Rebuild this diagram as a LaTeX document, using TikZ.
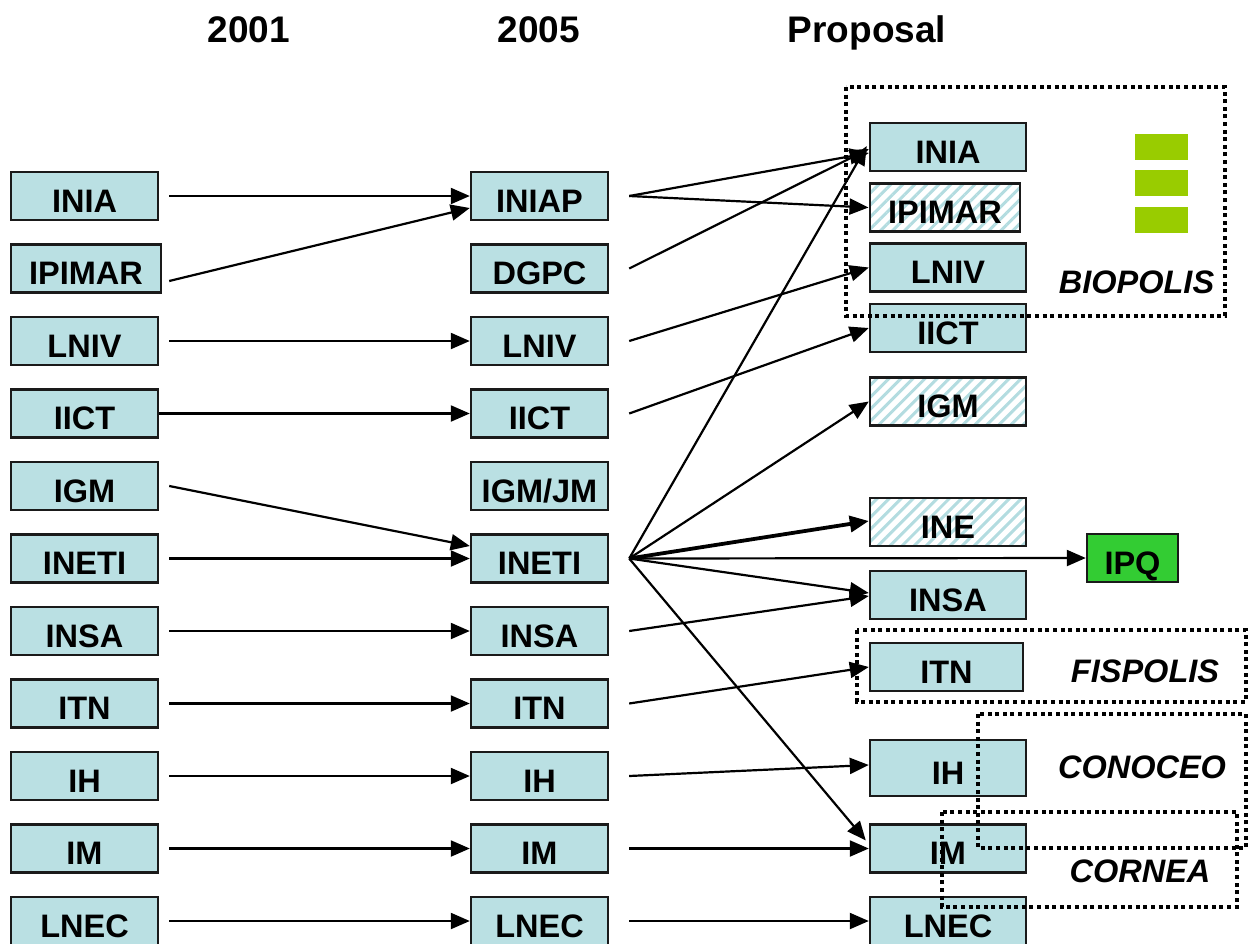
\documentclass[tikz,border=0pt]{standalone}
\usepackage{fontspec}
\setmainfont{Liberation Sans}
\usetikzlibrary{arrows.meta,patterns.meta}
\definecolor{boxfill}{HTML}{BAE0E3}
\definecolor{hatchcol}{HTML}{B3DCE0}
\definecolor{ipqgreen}{HTML}{33CC33}
\definecolor{bargreen}{HTML}{99CC00}
\definecolor{edgecol}{HTML}{1A1A1A}
\newcommand\boxfont{\fontsize{32.5}{36}\selectfont\bfseries}
\newcommand\headfont{\fontsize{37}{40}\selectfont\bfseries}
\newcommand\grpfont{\fontsize{32.5}{36}\selectfont\bfseries\itshape}
\begin{document}
\begin{tikzpicture}[x=1pt,y=-1pt,
  orgbox/.style={draw=edgecol, line width=2.4pt, fill=boxfill, minimum height=48pt,
    inner sep=0pt, text height=32pt, text depth=0pt, font=\boxfont},
  lbox/.style={orgbox, minimum width=147pt},
  mbox/.style={orgbox, minimum width=137pt},
  rbox/.style={orgbox, minimum width=156pt},
  hatched/.style={fill=none, pattern={Lines[angle=45,distance=8.5pt,line width=3pt]}, pattern color=hatchcol},
  conn/.style={line width=2.2pt, -{Triangle[length=19pt,width=16pt]}},
  thickconn/.style={line width=3.8pt, -{Triangle[length=19pt,width=16pt]}},
  group/.style={draw=black, line width=3.6pt, dash pattern=on 4pt off 3.6pt},
  grplabel/.style={font=\grpfont, anchor=base, inner sep=0pt},
  header/.style={font=\headfont, anchor=base, inner sep=0pt},
  bar/.style={fill=bargreen, draw=none}
]
\useasboundingbox (0,0) rectangle (1253,943);

% headers
\node[header] (h1) at (249,42) {2001};
\node[header] (h2) at (539,42) {2005};
\node[header] (h3) at (867,42) {Proposal};

% left column (2001)
\node[lbox] (l1) at (84.5,196) {INIA};
\node[lbox, minimum width=150pt] (l2) at (86,268.5) {IPIMAR};
\node[lbox] (l3) at (84.5,341) {LNIV};
\node[lbox] (l4) at (84.5,413.5) {IICT};
\node[lbox] (l5) at (84.5,486) {IGM};
\node[lbox] (l6) at (84.5,558.5) {INETI};
\node[lbox] (l7) at (84.5,631) {INSA};
\node[lbox] (l8) at (84.5,703.5) {ITN};
\node[lbox] (l9) at (84.5,776) {IH};
\node[lbox] (l10) at (84.5,848.5) {IM};
\node[lbox] (l11) at (84.5,921) {LNEC};

% middle column (2005)
\node[mbox] (m1) at (539.5,196) {INIAP};
\node[mbox] (m2) at (539.5,268.5) {DGPC};
\node[mbox] (m3) at (539.5,341) {LNIV};
\node[mbox] (m4) at (539.5,413.5) {IICT};
\node[mbox] (m5) at (539.5,486) {IGM/JM};
\node[mbox] (m6) at (539.5,558.5) {INETI};
\node[mbox] (m7) at (539.5,631) {INSA};
\node[mbox] (m8) at (539.5,703.5) {ITN};
\node[mbox] (m9) at (539.5,776) {IH};
\node[mbox] (m10) at (539.5,848.5) {IM};
\node[mbox] (m11) at (539.5,921) {LNEC};

% right column (proposal)
\node[rbox] (r1) at (948,147) {INIA};
\node[rbox, hatched, minimum width=150pt] (r2) at (945,207.5) {IPIMAR};
\node[rbox] (r3) at (948,267.5) {LNIV};
\node[rbox] (r4) at (948,328) {IICT};
\node[rbox, hatched] (r5) at (948,401.5) {IGM};
\node[rbox, hatched] (r6) at (948,522) {INE};
\node[rbox] (r7) at (948,595) {INSA};
\node[rbox, minimum width=153pt] (r8) at (946.5,667) {ITN};
\node[rbox, minimum height=56pt] (r9) at (948,768) {IH};
\node[rbox] (r10) at (948,848.5) {IM};
\node[rbox] (r11) at (948,921) {LNEC};
\node[orgbox, fill=ipqgreen, minimum width=91pt] (ipq) at (1132.5,558) {IPQ};

% green bars
\fill[bar] (1135,134) rectangle (1188,160);
\fill[bar] (1135,170) rectangle (1188,196);
\fill[bar] (1135,207) rectangle (1188,233);

% connectors 2001 -> 2005
\draw[conn] ([xshift=10pt]l1.east) -- (m1.west);
\draw[conn] ([xshift=7pt,yshift=-12.5pt]l2.east) -- ([yshift=-12pt]m1.west);
\draw[conn] ([xshift=10pt]l3.east) -- (m3.west);
\draw[conn] (l4.east) -- (m4.west);
\draw[conn] ([xshift=10pt]l5.east) -- ([yshift=12.5pt]m6.west);
\draw[conn] ([xshift=10pt]l6.east) -- (m6.west);
\draw[conn] ([xshift=10pt]l7.east) -- (m7.west);
\draw[conn] ([xshift=10pt]l8.east) -- (m8.west);
\draw[conn] ([xshift=10pt]l9.east) -- (m9.west);
\draw[conn] ([xshift=10pt]l10.east) -- (m10.west);
\draw[conn] ([xshift=10pt]l11.east) -- (m11.west);

% connectors 2005 -> proposal
\draw[conn] ([xshift=20pt]m1.east) -- ([yshift=-6pt]r1.west);
\draw[conn] ([xshift=20pt]m1.east) -- (r2.west);
\draw[conn] ([xshift=20pt]m2.east) -- ([yshift=-2pt]r1.west);
\draw[conn] ([xshift=20pt]m3.east) -- (r3.west);
\draw[conn] ([xshift=20pt]m4.east) -- (r4.west);
\draw[conn] ([xshift=20pt]m6.east) -- ([xshift=-2pt,yshift=1pt]r1.west);
\draw[conn] ([xshift=20pt]m6.east) -- (r5.west);
\draw[thickconn] ([xshift=20pt]m6.east) -- ([yshift=1pt]r6.west);
\draw[conn] ([xshift=20pt]m6.east) -- (ipq.west);
\draw[conn] ([xshift=20pt]m6.east) -- ([yshift=2pt]r7.west);
\draw[conn] ([xshift=20pt]m6.east) -- ([xshift=-3pt,yshift=8pt]r10.west);
\draw[conn] ([xshift=20pt]m7.east) -- ([yshift=-1pt]r7.west);
\draw[conn] ([xshift=20pt]m8.east) -- (r8.west);
\draw[conn] ([xshift=20pt]m9.east) -- ([yshift=3pt]r9.west);
\draw[conn] ([xshift=20pt]m10.east) -- (r10.west);
\draw[conn] ([xshift=20pt]m11.east) -- (r11.west);

% groups
\draw[group] (846,87) rectangle (1225,316);
\draw[group] (857,630) rectangle (1246,702);
\draw[group] (978,714) rectangle (1246,848);
\draw[group] (942,812) rectangle (1237,907);
\node[grplabel] (g1) at (1136.5,293) {BIOPOLIS};
\node[grplabel] (g2) at (1145,682) {FISPOLIS};
\node[grplabel] (g3) at (1142,778) {CONOCEO};
\node[grplabel] (g4) at (1140,882) {CORNEA};
\end{tikzpicture}
\end{document}
